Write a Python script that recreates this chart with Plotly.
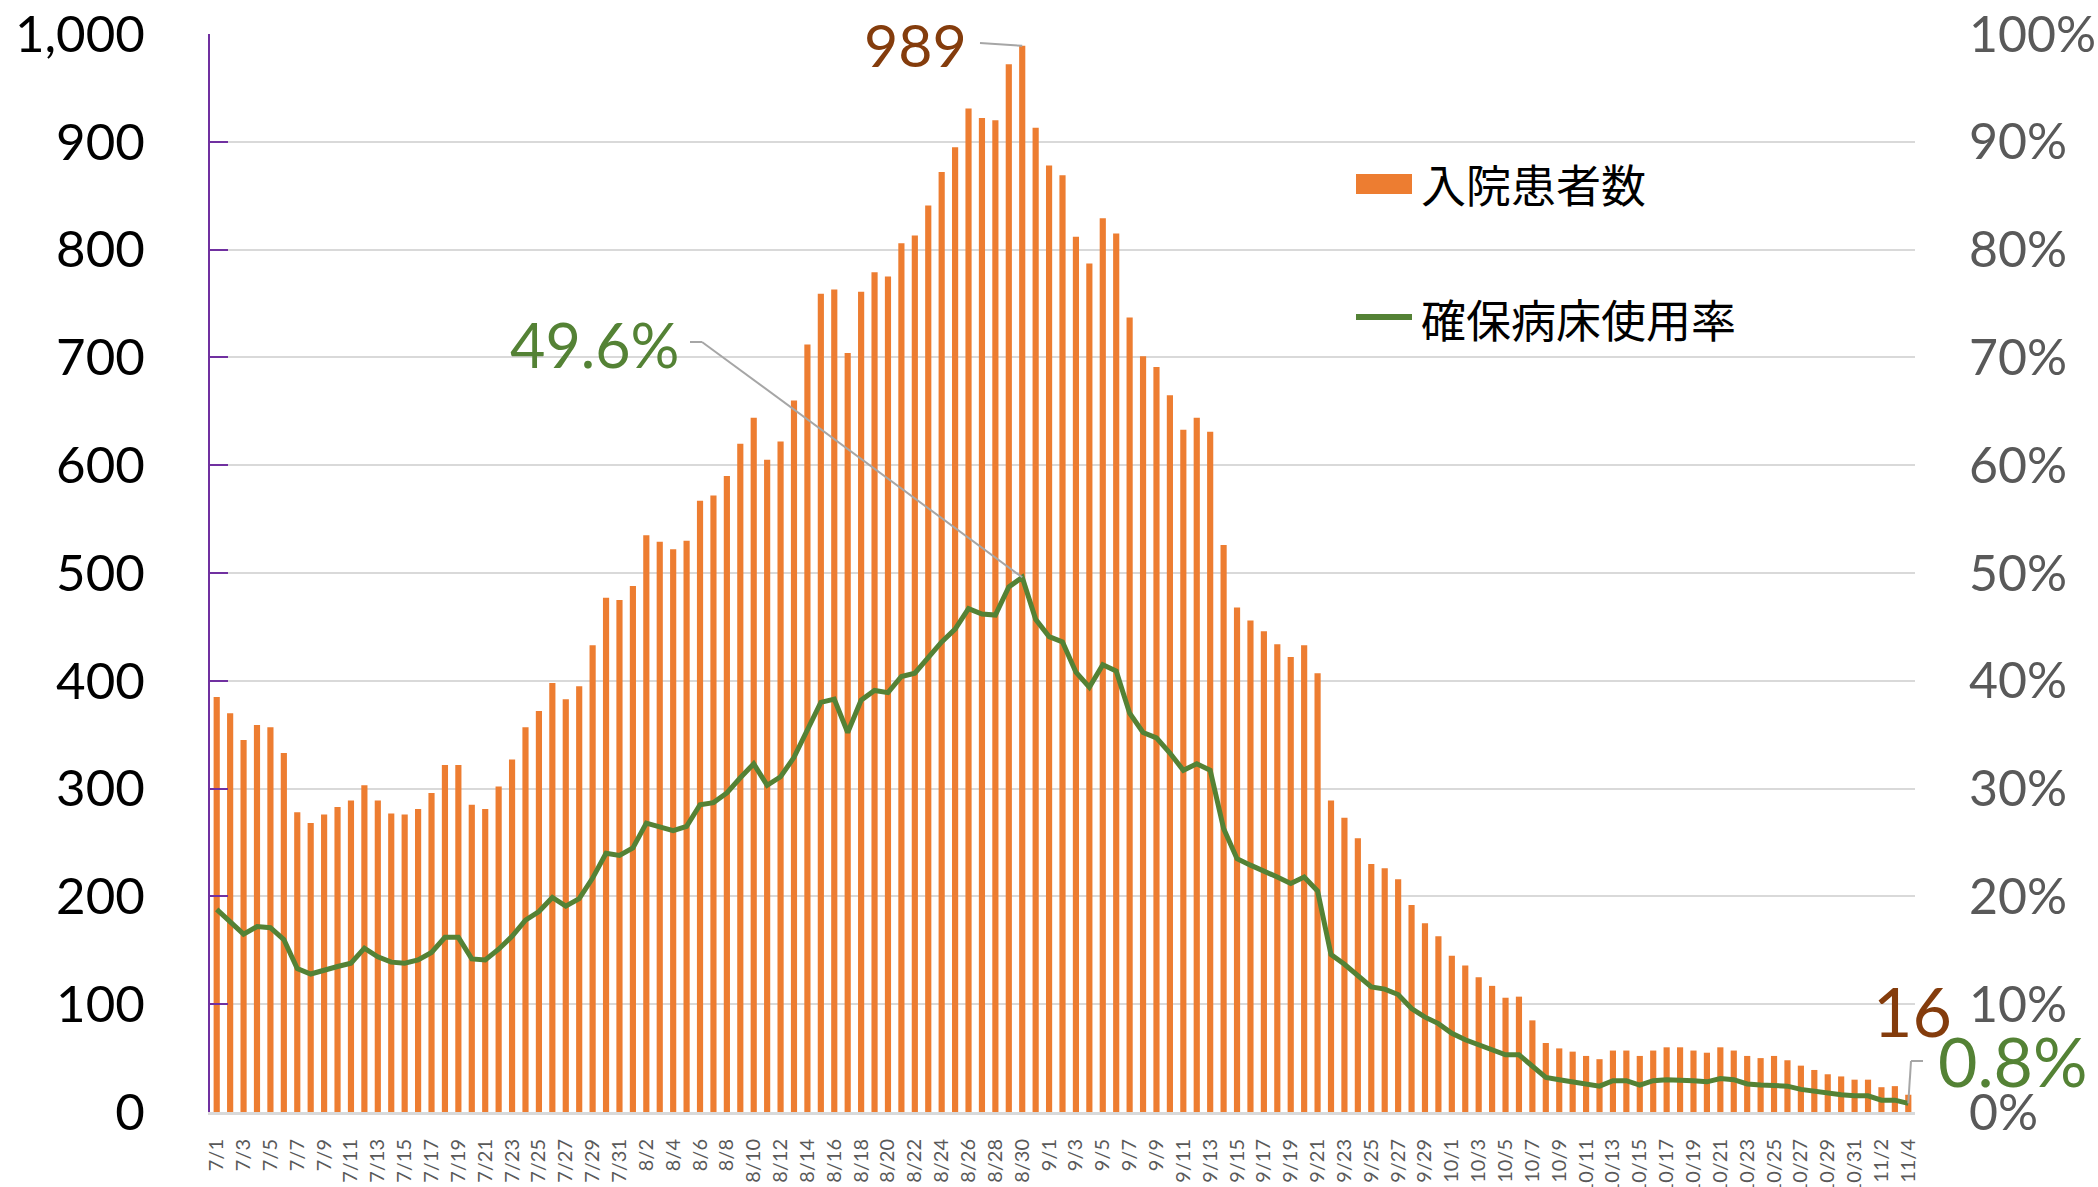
import plotly.graph_objects as go

# ---------------- data ----------------
month_days = [("7", 31), ("8", 31), ("9", 30), ("10", 31), ("11", 4)]
dates = [f"{m}/{d}" for m, n in month_days for d in range(1, n + 1)]

patients_jul = [385, 370, 345, 359, 357, 333, 278, 268, 276, 283, 289, 303, 289, 277, 276, 281,
                296, 322, 322, 285, 281, 302, 327, 357, 372, 398, 383, 395, 433, 477, 475]
patients_aug = [488, 535, 529, 522, 530, 567, 572, 590, 620, 644, 605, 622, 660, 712, 759, 763,
                704, 761, 779, 775, 806, 813, 841, 872, 895, 931, 922, 920, 972, 989, 913]
patients_sep = [878, 869, 812, 787, 829, 815, 737, 701, 691, 665, 633, 644, 631, 526, 468, 456,
                446, 434, 422, 433, 407, 289, 273, 254, 230, 226, 216, 192, 175, 163]
patients_oct = [145, 136, 125, 117, 106, 107, 85, 64, 59, 56, 52, 49, 57, 57, 52, 57,
                60, 60, 57, 55, 60, 57, 52, 50, 52, 48, 43, 39, 35, 33, 30]
patients_nov = [30, 23, 24, 16]
patients = patients_jul + patients_aug + patients_sep + patients_oct + patients_nov

rate_jul = [18.8, 17.7, 16.5, 17.2, 17.1, 16.0, 13.3, 12.8, 13.2, 13.5, 13.8, 15.2, 14.4, 13.9, 13.8, 14.1,
            14.8, 16.2, 16.2, 14.2, 14.1, 15.1, 16.3, 17.8, 18.6, 19.9, 19.1, 19.8, 21.7, 24.0, 23.8]
rate_aug = [24.5, 26.8, 26.5, 26.1, 26.5, 28.5, 28.7, 29.6, 31.0, 32.3, 30.3, 31.1, 32.9, 35.5, 38.0, 38.3,
            35.2, 38.2, 39.1, 38.9, 40.4, 40.7, 42.1, 43.6, 44.8, 46.7, 46.2, 46.1, 48.7, 49.6, 45.7]
rate_sep = [44.1, 43.6, 40.8, 39.4, 41.5, 40.9, 37.0, 35.2, 34.7, 33.3, 31.7, 32.3, 31.7, 26.3, 23.5, 22.9,
            22.4, 21.8, 21.2, 21.8, 20.5, 14.6, 13.7, 12.7, 11.6, 11.4, 10.9, 9.6, 8.8, 8.2]
rate_oct = [7.3, 6.7, 6.2, 5.8, 5.3, 5.3, 4.2, 3.2, 3.0, 2.8, 2.7, 2.4, 2.9, 2.9, 2.5, 2.9,
            3.0, 3.0, 2.9, 2.8, 3.1, 3.0, 2.6, 2.5, 2.5, 2.4, 2.1, 1.9, 1.7, 1.6, 1.5]
rate_nov = [1.5, 1.1, 1.1, 0.8]
rate = rate_jul + rate_aug + rate_sep + rate_oct + rate_nov

bar_name = "入院患者数"
line_name = "確保病床使用率"
left_ticks = [0, 100, 200, 300, 400, 500, 600, 700, 800, 900, 1000]
left_ticktext = ["0", "100", "200", "300", "400", "500", "600", "700", "800", "900", "1,000"]
right_ticks = [0, 10, 20, 30, 40, 50, 60, 70, 80, 90, 100]
right_ticktext = ["0%", "10%", "20%", "30%", "40%", "50%", "60%", "70%", "80%", "90%", "100%"]

# ---------------- layout geometry ----------------
W, H = 2098, 1187
L, R, T, B = 210, 183, 34, 75
PW, PH = W - L - R, H - T - B
NCAT = len(dates)
CW = PW / NCAT


def px(x):
    return (x - L) / PW


def py(y):
    return (T + PH - y) / PH


def xi(x):
    return (x - L) / CW - 0.5


ORANGE = "#ED7D31"
GREEN = "#548235"
BROWN = "#843C0C"
GRID = "#D9D9D9"
PURPLE = "#7030A0"
FONT = "Lato, 'Open Sans', sans-serif"
CJK = "'Noto Sans CJK JP', 'Noto Sans CJK SC', sans-serif"

fig = go.Figure()
fig.add_trace(go.Bar(x=dates, y=patients, name=bar_name, marker=dict(color=ORANGE, line=dict(width=0)),
                     yaxis="y", showlegend=False))
fig.add_trace(go.Scatter(x=dates, y=rate, name=line_name, mode="lines",
                         line=dict(color=GREEN, width=5), yaxis="y2", showlegend=False))

peak_i = patients.index(max(patients))
last_i = NCAT - 1

shapes = [
    # legend symbols
    dict(type="rect", xref="paper", yref="paper", x0=px(1356), x1=px(1412), y0=py(194), y1=py(174),
         fillcolor=ORANGE, line=dict(width=0)),
    dict(type="line", xref="paper", yref="paper", x0=px(1356), x1=px(1412), y0=py(317), y1=py(317),
         line=dict(color=GREEN, width=6)),
    # leader: peak bar
    dict(type="line", xref="x", yref="y", x0=peak_i, y0=patients[peak_i], x1=xi(980), y1=(T + PH - 43) / PH * 1000,
         line=dict(color="#A6A6A6", width=2)),
    # leader: peak rate
    dict(type="line", xref="x", yref="y2", x0=peak_i, y0=rate[peak_i], x1=xi(702), y1=(T + PH - 342) / PH * 100,
         line=dict(color="#A6A6A6", width=2)),
    dict(type="line", xref="x", yref="y2", x0=xi(702), y0=(T + PH - 342) / PH * 100, x1=xi(690),
         y1=(T + PH - 342) / PH * 100, line=dict(color="#A6A6A6", width=2)),
    # leader: last rate
    dict(type="line", xref="x", yref="y2", x0=last_i, y0=rate[last_i], x1=xi(1911), y1=(T + PH - 1061) / PH * 100,
         line=dict(color="#A6A6A6", width=2)),
    dict(type="line", xref="paper", yref="paper", x0=px(1911), y0=py(1061), x1=px(1923), y1=py(1061),
         line=dict(color="#A6A6A6", width=2)),
]

annotations = [
    dict(text=bar_name, xref="paper", yref="paper", x=px(1419), y=py(184), xanchor="left", yanchor="middle",
         showarrow=False, font=dict(family=CJK, size=45, color="#000000")),
    dict(text=line_name, xref="paper", yref="paper", x=px(1419), y=py(318), xanchor="left", yanchor="middle",
         showarrow=False, font=dict(family=CJK, size=45, color="#000000")),
    dict(text=f"{patients[peak_i]:,}", xref="paper", yref="paper", x=px(915), y=py(44), xanchor="center",
         yanchor="middle", showarrow=False, font=dict(family=FONT, size=59, color=BROWN)),
    dict(text=f"{rate[peak_i]:.1f}%", xref="paper", yref="paper", x=px(594), y=py(344), xanchor="center",
         yanchor="middle", showarrow=False, font=dict(family=FONT, size=61, color=GREEN)),
    dict(text=f"{patients[last_i]}", xref="paper", yref="paper", x=px(1912), y=py(1010), xanchor="center",
         yanchor="middle", showarrow=False, font=dict(family=FONT, size=68, color=BROWN)),
    dict(text=f"{rate[last_i]:.1f}%", xref="paper", yref="paper", x=px(2013), y=py(1060), xanchor="center",
         yanchor="middle", showarrow=False, font=dict(family=FONT, size=68, color=GREEN)),
]

fig.update_layout(
    width=W, height=H,
    margin=dict(l=L, r=R, t=T, b=B, pad=0),
    paper_bgcolor="white", plot_bgcolor="white",
    bargap=0.54,
    showlegend=False,
    xaxis=dict(type="category", categoryorder="array", categoryarray=dates,
               range=[-0.5, NCAT - 0.5],
               tickmode="array", tickvals=dates[::2], ticktext=dates[::2],
               tickangle=-90, tickfont=dict(family=FONT, size=20, color="#595959"),
               ticks="", showgrid=False, showline=True, linecolor=GRID, linewidth=3,
               ticklabelstandoff=16, automargin=False),
    yaxis=dict(range=[0, 1000], tickmode="array", tickvals=left_ticks, ticktext=left_ticktext,
               tickfont=dict(family=FONT, size=51, color="#000000"),
               showgrid=True, gridcolor=GRID, gridwidth=2,
               showline=True, linecolor=PURPLE, linewidth=2,
               ticks="inside", ticklen=18, tickcolor=PURPLE, tickwidth=2,
               ticklabelstandoff=53, zeroline=False, automargin=False),
    yaxis2=dict(range=[0, 100], tickmode="array", tickvals=right_ticks, ticktext=right_ticktext,
                overlaying="y", side="right",
                tickfont=dict(family=FONT, size=50, color="#595959"),
                showgrid=False, showline=False, ticks="", zeroline=False,
                ticklabelstandoff=53, automargin=False),
    shapes=shapes,
    annotations=annotations,
)

fig.write_html("out.html", config={"displayModeBar": False},
               post_script="document.body.style.margin='0';")
